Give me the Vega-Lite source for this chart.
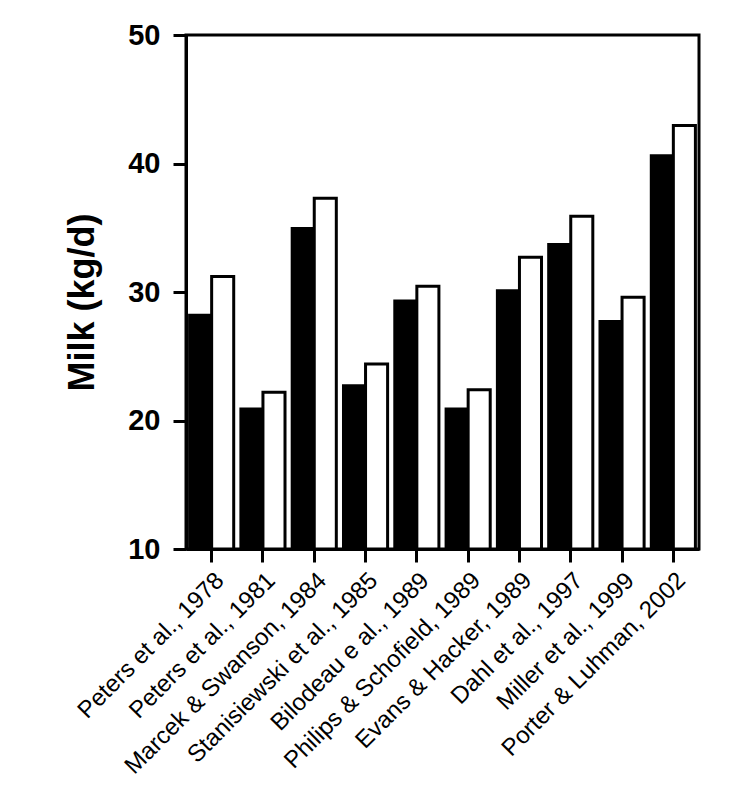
{
  "$schema": "https://vega.github.io/schema/vega-lite/v6.json",
  "autosize": {"type": "none"},
  "padding": {"left": 186, "top": 35, "right": 34, "bottom": 244},
  "width": 513,
  "height": 514,
  "background": "white",
  "config": {
    "view": {"stroke": "black", "strokeWidth": 3},
    "font": "Liberation Sans"
  },
  "data": {
    "values": [
      {"study": "Peters et al., 1978", "group": "Control", "milk": 28.2},
      {"study": "Peters et al., 1978", "group": "Treatment", "milk": 31.2},
      {"study": "Peters et al., 1981", "group": "Control", "milk": 20.9},
      {"study": "Peters et al., 1981", "group": "Treatment", "milk": 22.2},
      {"study": "Marcek & Swanson, 1984", "group": "Control", "milk": 34.95},
      {"study": "Marcek & Swanson, 1984", "group": "Treatment", "milk": 37.3},
      {"study": "Stanisiewski et al., 1985", "group": "Control", "milk": 22.7},
      {"study": "Stanisiewski et al., 1985", "group": "Treatment", "milk": 24.4},
      {"study": "Bilodeau e al., 1989", "group": "Control", "milk": 29.3},
      {"study": "Bilodeau e al., 1989", "group": "Treatment", "milk": 30.45},
      {"study": "Philips & Schofield, 1989", "group": "Control", "milk": 20.9},
      {"study": "Philips & Schofield, 1989", "group": "Treatment", "milk": 22.4},
      {"study": "Evans & Hacker, 1989", "group": "Control", "milk": 30.1},
      {"study": "Evans & Hacker, 1989", "group": "Treatment", "milk": 32.7},
      {"study": "Dahl et al., 1997", "group": "Control", "milk": 33.7},
      {"study": "Dahl et al., 1997", "group": "Treatment", "milk": 35.9},
      {"study": "Miller et al., 1999", "group": "Control", "milk": 27.7},
      {"study": "Miller et al., 1999", "group": "Treatment", "milk": 29.6},
      {"study": "Porter & Luhman, 2002", "group": "Control", "milk": 40.6},
      {"study": "Porter & Luhman, 2002", "group": "Treatment", "milk": 42.95}
    ]
  },
  "mark": {"type": "bar", "stroke": "black", "strokeWidth": 3, "strokeJoin": "miter"},
  "encoding": {
    "x": {
      "field": "study",
      "type": "nominal",
      "sort": null,
      "scale": {"paddingInner": 0.14, "paddingOuter": 0.07},
      "axis": {
        "title": null,
        "labelAngle": -45,
        "labelFontSize": 24,
        "labelColor": "black",
        "labelPadding": 6,
        "domainColor": "black",
        "domainWidth": 3,
        "tickColor": "black",
        "tickWidth": 3,
        "tickSize": 13,
        "labelLimit": 400
      }
    },
    "xOffset": {"field": "group", "type": "nominal", "scale": {"paddingInner": 0, "paddingOuter": 0}},
    "y": {
      "field": "milk",
      "type": "quantitative",
      "scale": {"domain": [10, 50], "nice": false, "zero": false},
      "axis": {
        "title": "Milk (kg/d)",
        "titleFontSize": 36,
        "titleFontWeight": "bold",
        "titleColor": "black",
        "titlePadding": 26,
        "titleY": 267,
        "values": [10, 20, 30, 40, 50],
        "labelFontSize": 29,
        "labelFontWeight": "bold",
        "labelColor": "black",
        "labelPadding": 13,
        "grid": false,
        "domainColor": "black",
        "domainWidth": 3,
        "tickColor": "black",
        "tickWidth": 3,
        "tickSize": 13
      }
    },
    "y2": {"datum": 10},
    "fill": {
      "field": "group",
      "type": "nominal",
      "scale": {"domain": ["Control", "Treatment"], "range": ["black", "white"]},
      "legend": null
    }
  }
}
